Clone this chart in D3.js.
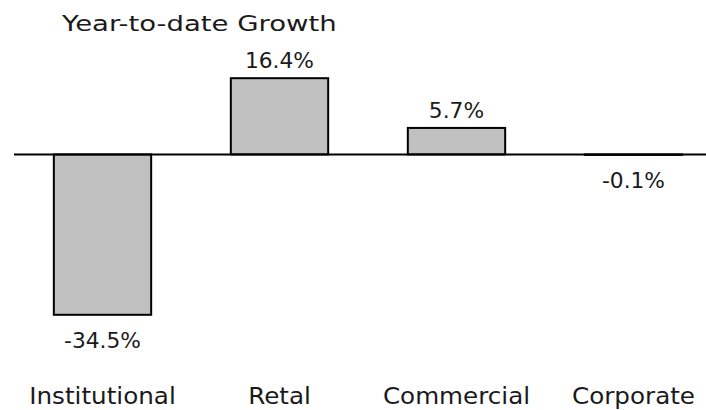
<!DOCTYPE html>
<html>
<head>
<meta charset="utf-8">
<script src="https://cdn.jsdelivr.net/npm/d3@7"></script>
<style>
  html, body { margin: 0; padding: 0; background: #fff; }
  svg { display: block; }
  text { font-family: "DejaVu Sans", sans-serif; fill: #1a1a1a; }
</style>
</head>
<body>
<svg id="chart" width="706" height="410"></svg>
<script>
// Year-to-date growth by business segment (percent)
const segments = ["Institutional", "Retal", "Commercial", "Corporate"];
const growth = [-34.5, 16.4, 5.7, -0.1];
const valueLabels = ["-34.5%", "16.4%", "5.7%", "-0.1%"];
const title = "Year-to-date Growth";

const W = 706, H = 410;
const svg = d3.select("#chart");

// widen glyphs a little for a broad geometric look
function widen(sel, factor) {
  sel.each(function () {
    const len = this.getComputedTextLength();
    d3.select(this)
      .attr("textLength", len * factor)
      .attr("lengthAdjust", "spacingAndGlyphs");
  });
}

const x = d3.scaleBand()
  .domain(segments)
  .range([14, 722])
  .paddingInner(0.45)
  .paddingOuter(0.225);

const y = d3.scaleLinear()
  .domain([-34.5, 16.4])
  .range([314.8, 78.2]);

const data = segments.map((s, i) => ({ seg: s, v: growth[i], label: valueLabels[i] }));

// bars
svg.append("g").selectAll("rect")
  .data(data)
  .join("rect")
  .attr("x", d => x(d.seg))
  .attr("width", x.bandwidth())
  .attr("y", d => y(Math.max(0, d.v)))
  .attr("height", d => Math.abs(y(d.v) - y(0)))
  .attr("fill", "#c0c0c0")
  .attr("stroke", "#000")
  .attr("stroke-width", 2);

// zero baseline
svg.append("line")
  .attr("x1", 14).attr("x2", W)
  .attr("y1", y(0)).attr("y2", y(0))
  .attr("stroke", "#000")
  .attr("stroke-width", 2);

// value labels above positive bars, below negative bars
const vals = svg.append("g").selectAll("text")
  .data(data)
  .join("text")
  .attr("x", d => x(d.seg) + x.bandwidth() / 2)
  .attr("y", d => d.v >= 0 ? y(d.v) - 10 : y(d.v) + 33)
  .attr("text-anchor", "middle")
  .attr("font-size", 20.5)
  .text(d => d.label);
widen(vals, 1.06);

// category axis
const xAxis = svg.append("g")
  .attr("transform", "translate(0,404)")
  .call(d3.axisBottom(x).tickSize(0).tickPadding(0));
xAxis.select(".domain").remove();
const cats = xAxis.selectAll("text")
  .attr("dy", 0)
  .attr("font-size", 23)
  .style("font-family", "'DejaVu Sans', sans-serif")
  .attr("fill", "#1a1a1a");
widen(cats, 1.07);

// title
const t = svg.append("text")
  .attr("x", 62)
  .attr("y", 31)
  .attr("font-size", 22)
  .text(title);
widen(t, 1.25);
</script>
</body>
</html>
